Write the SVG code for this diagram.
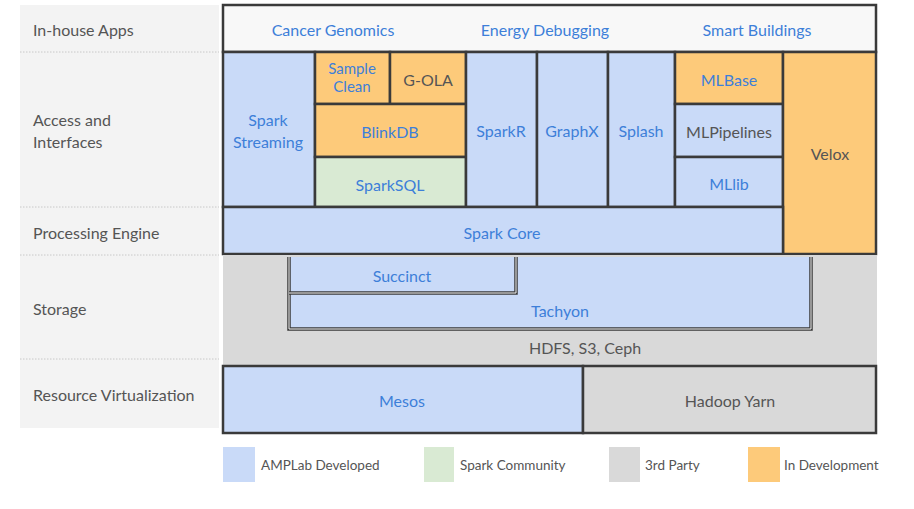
<svg xmlns="http://www.w3.org/2000/svg" width="914" height="509" viewBox="0 0 914 509">
<style>
.bx{stroke:#3a3a3a;stroke-width:2.5}
.blue{fill:#c9daf8}
.green{fill:#d9ead3}
.gray{fill:#d9d9d9}
.orange{fill:#fdca7a}
.white{fill:#f8f8f8}
text{font-family:Lato,"Liberation Sans",sans-serif;text-anchor:middle}
.tb{fill:#3d7fd9;font-size:16px}
.ts{fill:#3d7fd9;font-size:15px}
.tg{fill:#555;font-size:16px}
.lbl{fill:#555;font-size:16px;text-anchor:start}
.lg{fill:#555;font-size:13.5px;text-anchor:start}
.sep{stroke:#c8c8c8;stroke-width:1;stroke-dasharray:1.5,1.5}
.brk{fill:none;stroke:#3a3a3a;stroke-width:3.5}
.brkw{fill:none;stroke:#f4f4f4;stroke-width:1}
</style>
<rect width="914" height="509" fill="#ffffff"/>
<g id="labels">
<rect x="20" y="5" width="199" height="423" fill="#f3f3f3"/>
<line class="sep" x1="20" y1="52" x2="219" y2="52"/>
<line class="sep" x1="20" y1="207" x2="219" y2="207"/>
<line class="sep" x1="20" y1="255" x2="219" y2="255"/>
<line class="sep" x1="20" y1="359" x2="219" y2="359"/>
<text class="lbl" x="33" y="36">In-house Apps</text>
<text class="lbl" x="33" y="126">Access and</text>
<text class="lbl" x="33" y="148">Interfaces</text>
<text class="lbl" x="33" y="239">Processing Engine</text>
<text class="lbl" x="33" y="315">Storage</text>
<text class="lbl" x="33" y="401">Resource Virtualization</text>
</g>
<g id="inhouse-apps">
<rect class="bx white" x="223" y="5" width="653" height="47"/>
<text class="tb" x="333" y="36">Cancer Genomics</text>
<text class="tb" x="545" y="36">Energy Debugging</text>
<text class="tb" x="757" y="36">Smart Buildings</text>
</g>
<g id="spark-streaming">
<rect class="bx blue" x="223" y="52" width="92" height="155"/>
<text class="tb" x="268" y="126">Spark</text>
<text class="tb" x="268" y="148">Streaming</text>
</g>
<g id="sample-clean">
<rect class="bx orange" x="315" y="52" width="75" height="52"/>
<text class="ts" x="352" y="74">Sample</text>
<text class="ts" x="352" y="92">Clean</text>
</g>
<g id="g-ola">
<rect class="bx orange" x="390" y="52" width="76" height="52"/>
<text class="tg" x="428" y="86">G-OLA</text>
</g>
<g id="blinkdb">
<rect class="bx orange" x="315" y="104" width="151" height="53"/>
<text class="tb" x="390" y="138">BlinkDB</text>
</g>
<g id="sparksql">
<rect class="bx green" x="315" y="157" width="151" height="50"/>
<text class="tb" x="390" y="191">SparkSQL</text>
</g>
<g id="sparkr">
<rect class="bx blue" x="466" y="52" width="71" height="155"/>
<text class="tb" x="501" y="137">SparkR</text>
</g>
<g id="graphx">
<rect class="bx blue" x="537" y="52" width="71" height="155"/>
<text class="tb" x="572" y="137">GraphX</text>
</g>
<g id="splash">
<rect class="bx blue" x="608" y="52" width="67" height="155"/>
<text class="tb" x="641" y="137">Splash</text>
</g>
<g id="mlbase">
<rect class="bx orange" x="675" y="52" width="108" height="52"/>
<text class="tb" x="729" y="86">MLBase</text>
</g>
<g id="mlpipelines">
<rect class="bx blue" x="675" y="104" width="108" height="53"/>
<text class="tg" x="729" y="138">MLPipelines</text>
</g>
<g id="mllib">
<rect class="bx blue" x="675" y="157" width="108" height="50"/>
<text class="tb" x="729" y="190">MLlib</text>
</g>
<g id="velox">
<rect class="bx orange" x="783" y="52" width="93" height="202"/>
<text class="tg" x="830" y="160">Velox</text>
</g>
<g id="spark-core">
<rect class="bx blue" x="223" y="207" width="560" height="47"/>
<text class="tb" x="502" y="239">Spark Core</text>
</g>
<g id="storage">
<rect class="gray" x="223" y="255" width="654" height="110"/>
<text class="tg" x="585" y="354">HDFS, S3, Ceph</text>
</g>
<g id="tachyon">
<rect class="blue" x="289" y="257" width="522" height="72"/>
<path class="brk" d="M289,257 V329 H811 V257"/>
<path class="brkw" d="M289,257 V329 H811 V257"/>
<text class="tb" x="560" y="317">Tachyon</text>
</g>
<g id="succinct">
<path class="brk" d="M289,293 H516 V257"/>
<path class="brkw" d="M289,293 H516 V257"/>
<text class="tb" x="402" y="282">Succinct</text>
</g>
<g id="mesos">
<rect class="bx blue" x="223" y="366" width="360" height="67"/>
<text class="tb" x="402" y="407">Mesos</text>
</g>
<g id="hadoop-yarn">
<rect class="bx gray" x="583" y="366" width="293" height="67"/>
<text class="tg" x="730" y="407">Hadoop Yarn</text>
</g>
<g id="legend">
<rect class="blue" x="223" y="447" width="32" height="35"/>
<text class="lg" x="261" y="470">AMPLab Developed</text>
<rect class="green" x="424" y="447" width="30" height="35"/>
<text class="lg" x="460" y="470">Spark Community</text>
<rect class="gray" x="609" y="447" width="31" height="35"/>
<text class="lg" x="645" y="470">3rd Party</text>
<rect class="orange" x="748" y="447" width="32" height="35"/>
<text class="lg" x="784" y="470">In Development</text>
</g>
</svg>
